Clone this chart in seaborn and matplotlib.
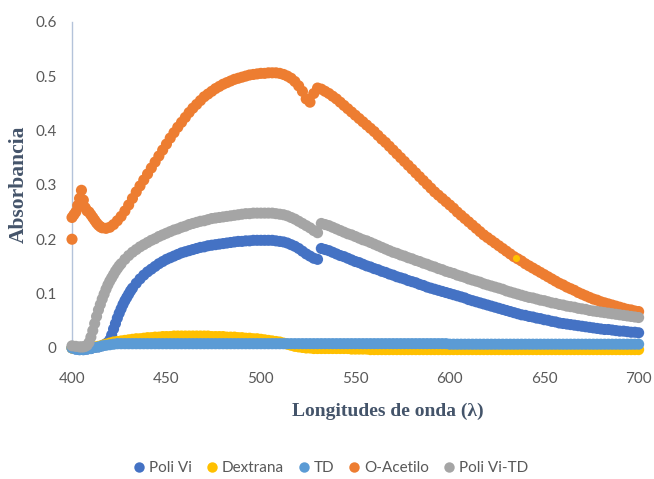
import matplotlib
matplotlib.use("Agg")
import matplotlib.pyplot as plt
from matplotlib.lines import Line2D
import pandas as pd
import seaborn as sns

# Wavelength grid (nm), 2 nm steps
wl = list(range(400, 701, 2))

# Poli Vi: 1 nm readings on the steep onset
poli_vi_wl = list(range(400, 418, 2)) + list(range(418, 433)) + list(range(434, 701, 2))
poli_vi = [
    0.0, -0.002, -0.003, -0.003, -0.002, -0.001, 0.001, 0.002, 0.004,
    0.008, 0.01, 0.015, 0.024, 0.035, 0.045, 0.055, 0.064, 0.072, 0.08,
    0.087, 0.093, 0.099, 0.105, 0.11,
    0.119, 0.127, 0.134,
    0.14, 0.145, 0.15, 0.155, 0.159, 0.163, 0.166, 0.169, 0.172, 0.175,
    0.177, 0.179, 0.181, 0.183, 0.185, 0.186, 0.188, 0.189, 0.19, 0.191,
    0.192, 0.193, 0.194, 0.195, 0.196, 0.196, 0.197, 0.197, 0.198, 0.198,
    0.198, 0.198, 0.198, 0.198, 0.197, 0.196, 0.195, 0.193, 0.19, 0.187,
    0.183, 0.178, 0.173, 0.169, 0.165, 0.163, 0.183, 0.181, 0.179, 0.176,
    0.173, 0.17, 0.168, 0.165, 0.162, 0.159, 0.157, 0.154, 0.151, 0.149,
    0.146, 0.144, 0.141, 0.139, 0.136, 0.134, 0.131, 0.129, 0.127, 0.124,
    0.122, 0.12, 0.117, 0.115, 0.112, 0.11, 0.108, 0.106, 0.104, 0.102,
    0.1, 0.098, 0.096, 0.094, 0.092, 0.089, 0.087, 0.085, 0.083, 0.081,
    0.079, 0.077, 0.075, 0.073, 0.071, 0.069, 0.067, 0.065, 0.063, 0.061,
    0.06, 0.058, 0.057, 0.055, 0.054, 0.052, 0.051, 0.049, 0.048, 0.046,
    0.045, 0.044, 0.043, 0.042, 0.041, 0.04, 0.039, 0.038, 0.037, 0.036,
    0.035, 0.034, 0.034, 0.033, 0.032, 0.031, 0.031, 0.03, 0.029, 0.029,
    0.028,
]

dextrana = [
    0.0, 0.0, 0.0, 0.0, 0.0, 0.001, 0.002, 0.003, 0.005, 0.007,
    0.009, 0.011, 0.012, 0.013, 0.014, 0.015, 0.016, 0.017, 0.017, 0.018,
    0.019, 0.019, 0.02, 0.02, 0.021, 0.021, 0.021, 0.022, 0.022, 0.022,
    0.022, 0.022, 0.022, 0.022, 0.022, 0.022, 0.022, 0.021, 0.021, 0.021,
    0.021, 0.02, 0.02, 0.02, 0.019, 0.019, 0.018, 0.018, 0.017, 0.017,
    0.016, 0.015, 0.014, 0.013, 0.012, 0.011, 0.009, 0.007, 0.005, 0.003,
    0.002, 0.001, 0.0, 0.0, -0.001, -0.001, -0.001, -0.001, -0.001, -0.001,
    -0.001, -0.001, -0.001, -0.001, -0.002, -0.002, -0.002, -0.002, -0.002, -0.003,
    -0.003, -0.003, -0.003, -0.003, -0.003, -0.003, -0.003, -0.003, -0.003, -0.003,
    -0.003, -0.003, -0.003, -0.003, -0.003, -0.003, -0.003, -0.003, -0.003, -0.003,
    -0.003, -0.003, -0.003, -0.003, -0.003, -0.003, -0.003, -0.003, -0.003, -0.003,
    -0.003, -0.003, -0.003, -0.003, -0.003, -0.003, -0.003, -0.003, -0.003, -0.003,
    -0.003, -0.003, -0.003, -0.003, -0.003, -0.003, -0.003, -0.003, -0.003, -0.003,
    -0.003, -0.003, -0.003, -0.003, -0.003, -0.003, -0.003, -0.003, -0.003, -0.003,
    -0.003, -0.003, -0.003, -0.003, -0.003, -0.003, -0.003, -0.003, -0.003, -0.003,
    -0.003,
]

# single stray Dextrana reading that sits on top of the O-Acetilo curve
dextrana_stray_wl = [635]
dextrana_stray = [0.165]

td = [
    0.0, -0.002, -0.003, -0.003, -0.002, -0.001, 0.001, 0.002, 0.004, 0.005,
    0.006, 0.007, 0.008, 0.008, 0.008, 0.008, 0.008, 0.008, 0.008, 0.008,
    0.008, 0.008, 0.008, 0.008, 0.008, 0.008, 0.008, 0.008, 0.008, 0.008,
    0.008, 0.008, 0.008, 0.008, 0.008, 0.008, 0.008, 0.008, 0.008, 0.008,
    0.008, 0.008, 0.008, 0.008, 0.008, 0.008, 0.008, 0.008, 0.008, 0.008,
    0.008, 0.008, 0.008, 0.008, 0.008, 0.008, 0.008, 0.008, 0.008, 0.008,
    0.008, 0.008, 0.008, 0.008, 0.008, 0.008, 0.008, 0.008, 0.008, 0.008,
    0.008, 0.008, 0.008, 0.008, 0.008, 0.008, 0.008, 0.008, 0.008, 0.008,
    0.008, 0.008, 0.008, 0.008, 0.008, 0.008, 0.008, 0.008, 0.008, 0.008,
    0.008, 0.008, 0.008, 0.008, 0.008, 0.008, 0.008, 0.008, 0.008, 0.008,
    0.007, 0.007, 0.007, 0.007, 0.007, 0.007, 0.007, 0.007, 0.007, 0.007,
    0.007, 0.007, 0.007, 0.007, 0.007, 0.007, 0.007, 0.007, 0.007, 0.007,
    0.007, 0.007, 0.007, 0.007, 0.007, 0.007, 0.007, 0.007, 0.007, 0.007,
    0.007, 0.007, 0.007, 0.007, 0.007, 0.007, 0.007, 0.007, 0.007, 0.007,
    0.007, 0.007, 0.007, 0.007, 0.007, 0.007, 0.007, 0.007, 0.007, 0.007,
    0.007,
]

# O-Acetilo: dense readings at the start of the scan, then every 2 nm
o_acetilo_wl = [400, 400, 401, 402, 403, 404, 405, 406, 407, 408, 409,
                410, 411, 412, 413, 414, 415] + list(range(416, 701, 2))
o_acetilo = [
    0.20, 0.24, 0.245, 0.25, 0.262, 0.275, 0.29, 0.272, 0.258, 0.252, 0.25,
    0.245, 0.24, 0.235, 0.23, 0.226, 0.223,
    0.221, 0.22, 0.222, 0.227, 0.234, 0.242, 0.252, 0.263, 0.275, 0.287,
    0.298, 0.309, 0.32, 0.331, 0.342, 0.353, 0.364, 0.375, 0.386, 0.396,
    0.406, 0.415, 0.424, 0.433, 0.441, 0.448, 0.455, 0.462, 0.467, 0.472,
    0.477, 0.481, 0.485, 0.488, 0.491, 0.494, 0.496, 0.498, 0.5, 0.502,
    0.503, 0.504, 0.505, 0.505, 0.506, 0.506, 0.506, 0.505, 0.503, 0.5,
    0.496, 0.49, 0.482, 0.472, 0.458, 0.452, 0.468, 0.478, 0.476, 0.472,
    0.468, 0.463, 0.458, 0.452, 0.446, 0.44, 0.434, 0.428, 0.422, 0.416,
    0.41, 0.404, 0.398, 0.391, 0.384, 0.378, 0.371, 0.364, 0.357, 0.35,
    0.343, 0.336, 0.329, 0.322, 0.315, 0.308, 0.301, 0.294, 0.287, 0.281,
    0.275, 0.269, 0.263, 0.257, 0.25, 0.244, 0.238, 0.232, 0.226, 0.22,
    0.214, 0.208, 0.203, 0.198, 0.193, 0.188, 0.183, 0.178, 0.173, 0.168,
    0.164, 0.16, 0.155, 0.151, 0.147, 0.143, 0.139, 0.135, 0.131, 0.127,
    0.123, 0.119, 0.116, 0.112, 0.109, 0.106, 0.102, 0.099, 0.096, 0.093,
    0.09, 0.088, 0.085, 0.083, 0.081, 0.079, 0.077, 0.075, 0.073, 0.071,
    0.07, 0.068, 0.067,
]

# Poli Vi-TD: 1 nm readings on the steep onset
poli_vi_td_wl = [400, 402, 404] + list(range(405, 427)) + list(range(428, 701, 2))
poli_vi_td = [
    0.004, 0.003, 0.002,
    0.002, 0.002, 0.003, 0.005, 0.01, 0.02, 0.032, 0.045, 0.058, 0.07, 0.08,
    0.09, 0.099, 0.108, 0.116, 0.123, 0.129, 0.135, 0.141, 0.146, 0.151, 0.155,
    0.163, 0.17, 0.176, 0.181, 0.186, 0.19,
    0.194, 0.198, 0.201, 0.205, 0.208, 0.211, 0.214, 0.217, 0.219, 0.222,
    0.224, 0.227, 0.229, 0.231, 0.233, 0.234, 0.236, 0.238, 0.239, 0.24,
    0.241, 0.242, 0.243, 0.244, 0.245, 0.246, 0.247, 0.247, 0.248, 0.248,
    0.248, 0.248, 0.248, 0.248, 0.247, 0.246, 0.245, 0.243, 0.24, 0.237,
    0.233, 0.229, 0.225, 0.221, 0.216, 0.212, 0.229, 0.227, 0.225, 0.222,
    0.219, 0.216, 0.213, 0.21, 0.208, 0.205, 0.202, 0.199, 0.197, 0.194,
    0.191, 0.188, 0.185, 0.182, 0.179, 0.176, 0.174, 0.171, 0.169, 0.166,
    0.164, 0.161, 0.159, 0.156, 0.154, 0.151, 0.149, 0.146, 0.144, 0.141,
    0.139, 0.137, 0.134, 0.132, 0.13, 0.127, 0.125, 0.123, 0.121, 0.118,
    0.116, 0.114, 0.112, 0.11, 0.108, 0.105, 0.103, 0.101, 0.099, 0.097,
    0.095, 0.093, 0.092, 0.09, 0.088, 0.087, 0.085, 0.083, 0.082, 0.08,
    0.079, 0.077, 0.076, 0.075, 0.073, 0.072, 0.071, 0.069, 0.068, 0.067,
    0.066, 0.065, 0.064, 0.063, 0.062, 0.061, 0.06, 0.059, 0.058, 0.057,
    0.056,
]

series_names = ["Poli Vi", "Dextrana", "TD", "O-Acetilo", "Poli Vi-TD"]
series_colors = ["#4472C4", "#FFC000", "#5B9BD5", "#ED7D31", "#A5A5A5"]
x_ticks = [400, 450, 500, 550, 600, 650, 700]
y_ticks = [0, 0.1, 0.2, 0.3, 0.4, 0.5, 0.6]
y_tick_labels = ["0", "0.1", "0.2", "0.3", "0.4", "0.5", "0.6"]

frames = [
    pd.DataFrame({"wl": poli_vi_wl, "abs": poli_vi, "serie": "Poli Vi"}),
    pd.DataFrame({"wl": wl, "abs": dextrana, "serie": "Dextrana"}),
    pd.DataFrame({"wl": wl, "abs": td, "serie": "TD"}),
    pd.DataFrame({"wl": o_acetilo_wl, "abs": o_acetilo, "serie": "O-Acetilo"}),
    pd.DataFrame({"wl": poli_vi_td_wl, "abs": poli_vi_td, "serie": "Poli Vi-TD"}),
]
df = pd.concat(frames, ignore_index=True)

sns.set_theme(style="white")
plt.rcParams["font.family"] = ["Lato", "DejaVu Sans"]

fig = plt.figure(figsize=(6.54, 4.79), dpi=100)
ax = fig.add_axes([0.1101, 0.2735, 0.8664, 0.6812])

palette = dict(zip(series_names, series_colors))
sns.scatterplot(data=df, x="wl", y="abs", hue="serie", hue_order=series_names,
                palette=palette, s=64, linewidth=0, alpha=1, legend=False,
                ax=ax, clip_on=False, zorder=3)
sns.scatterplot(x=dextrana_stray_wl, y=dextrana_stray, color=series_colors[1],
                s=26, linewidth=0, ax=ax, zorder=5, legend=False)

ax.set_xlim(400, 700)
ax.set_ylim(0, 0.6)
ax.set_xticks(x_ticks)
ax.set_yticks(y_ticks)
ax.set_yticklabels(y_tick_labels)
ax.set_xlabel("")
ax.set_ylabel("")
ax.tick_params(axis="both", length=0, labelsize=11, colors="#595959")
ax.tick_params(axis="x", pad=17)
ax.tick_params(axis="y", pad=11)

for side in ["top", "right"]:
    ax.spines[side].set_visible(False)
for side in ["left", "bottom"]:
    ax.spines[side].set_color("#B4C3DA")
    ax.spines[side].set_linewidth(1.0)
    ax.spines[side].set_zorder(1)
ax.grid(False)

label_color = "#44546A"
fig.text(388 / 654, 1 - 411 / 479, "Longitudes de onda (λ)", ha="center",
         va="center", fontsize=14, fontweight="bold", color=label_color,
         family=["Liberation Serif", "DejaVu Serif"])
fig.text(19 / 654, 1 - 184 / 479, "Absorbancia", ha="center", va="center",
         rotation=90, fontsize=15.5, fontweight="bold", color=label_color,
         family=["Liberation Serif", "DejaVu Serif"])

handles = [Line2D([0], [0], marker="o", linestyle="none", markersize=7.5,
                  markerfacecolor=c, markeredgewidth=0) for c in series_colors]
fig.legend(handles, series_names, loc="center", bbox_to_anchor=(0.507, 0.022),
           ncol=5, frameon=False, fontsize=11, labelcolor="#595959",
           handlelength=0.6, handletextpad=0.35, columnspacing=1.0)

fig.savefig("out.png", dpi=100)
